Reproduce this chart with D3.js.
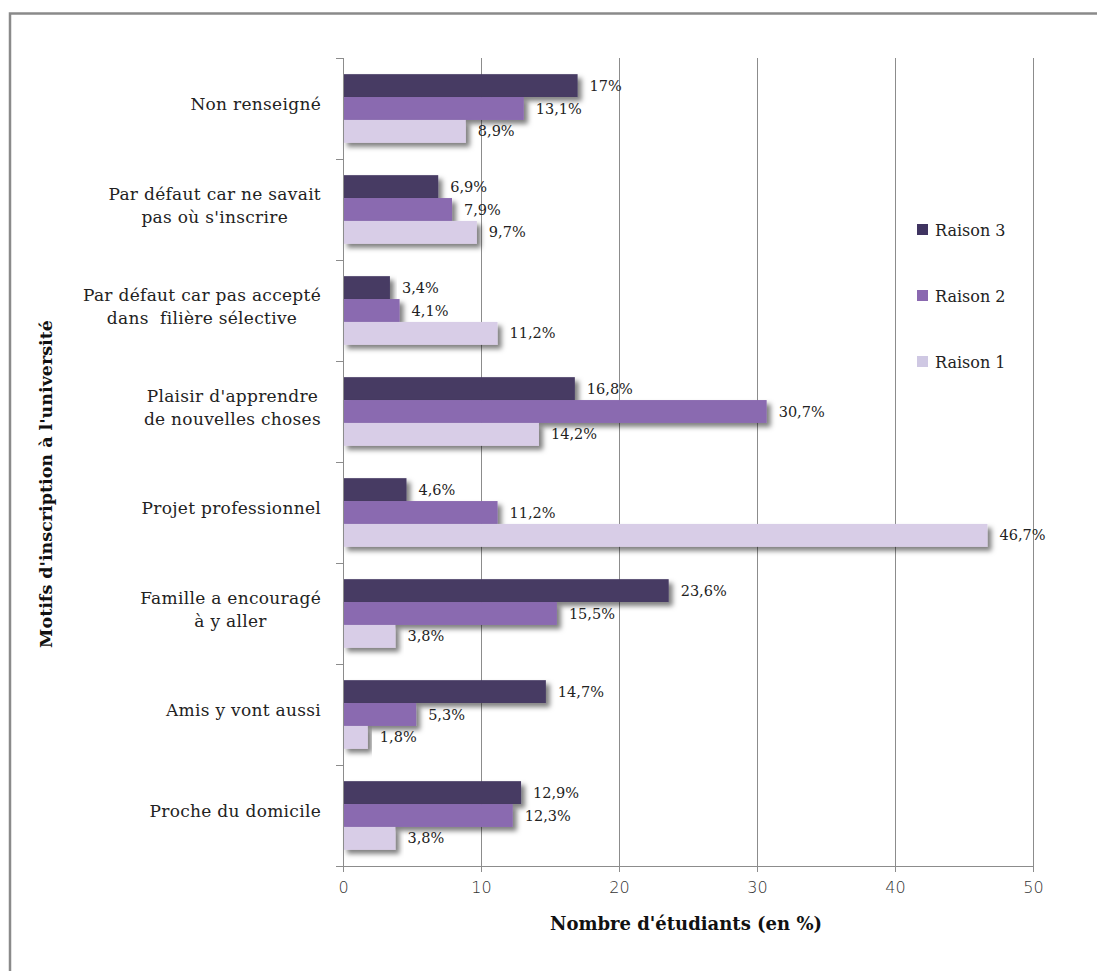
<!DOCTYPE html>
<html><head><meta charset="utf-8">
<script src="https://cdn.jsdelivr.net/npm/d3@7"></script>
<style>
html,body{margin:0;padding:0;background:#fff;}
svg{display:block;}
</style></head>
<body>
<svg id="chart" width="1097" height="971"></svg>
<script>
const categories = [
  ["Non renseigné"],
  ["Par défaut car ne savait", "pas où s'inscrire"],
  ["Par défaut car pas accepté", "dans  filière sélective"],
  ["Plaisir d'apprendre", "de nouvelles choses"],
  ["Projet professionnel"],
  ["Famille a encouragé", "à y aller"],
  ["Amis y vont aussi"],
  ["Proche du domicile"]
];
const seriesNames = ["Raison 3", "Raison 2", "Raison 1"];
const raison3 = [17, 6.9, 3.4, 16.8, 4.6, 23.6, 14.7, 12.9];
const raison2 = [13.1, 7.9, 4.1, 30.7, 11.2, 15.5, 5.3, 12.3];
const raison1 = [8.9, 9.7, 11.2, 14.2, 46.7, 3.8, 1.8, 3.8];
const labels3 = ["17%", "6,9%", "3,4%", "16,8%", "4,6%", "23,6%", "14,7%", "12,9%"];
const labels2 = ["13,1%", "7,9%", "4,1%", "30,7%", "11,2%", "15,5%", "5,3%", "12,3%"];
const labels1 = ["8,9%", "9,7%", "11,2%", "14,2%", "46,7%", "3,8%", "1,8%", "3,8%"];
const xTicks = [0, 10, 20, 30, 40, 50];
const colors = ["#463a63", "#8a6ab0", "#d8cde7"];
const legendColors = ["#3f3461", "#8a68b0", "#cfc8e3"];

const series = [
  {name: seriesNames[0], values: raison3, labels: labels3},
  {name: seriesNames[1], values: raison2, labels: labels2},
  {name: seriesNames[2], values: raison1, labels: labels1}
];

const svg = d3.select("#chart");
const serif = "'DejaVu Serif', serif";
const sans = "'DejaVu Sans', sans-serif";

// frame
svg.append("path").attr("d", "M10,971 V13.5 H1097").attr("fill", "none")
  .attr("stroke", "#8a8a8a").attr("stroke-width", 2.5);

const defs = svg.append("defs");
const f = defs.append("filter").attr("id", "sh").attr("x", "-5%").attr("y", "-30%").attr("width", "120%").attr("height", "190%");
f.append("feDropShadow").attr("dx", 4).attr("dy", 4).attr("stdDeviation", 2.5)
  .attr("flood-color", "#000").attr("flood-opacity", 0.5);

const pLeft = 343, pRight = 1033, pTop = 58, pBottom = 866;
const x = d3.scaleLinear().domain([0, 50]).range([pLeft, pRight]);
const y = d3.scaleBand().domain(d3.range(categories.length)).range([pTop, pBottom]).paddingInner(0.32).paddingOuter(0.16);
const yInner = d3.scaleBand().domain(d3.range(series.length)).range([0, y.bandwidth()]);

// gridlines
svg.append("g").selectAll("line").data(xTicks.filter(d => d > 0)).join("line")
  .attr("x1", d => x(d) + 0.5).attr("x2", d => x(d) + 0.5)
  .attr("y1", pTop).attr("y2", pBottom)
  .attr("stroke", "#8c8c8c").attr("stroke-width", 1);

// bars
const groups = svg.append("g").selectAll("g").data(categories).join("g")
  .attr("transform", (d, i) => `translate(0,${y(i)})`);

series.forEach((s, si) => {
  groups.append("rect")
    .attr("x", x(0))
    .attr("y", yInner(si))
    .attr("width", (d, i) => x(s.values[i]) - x(0))
    .attr("height", yInner.bandwidth())
    .attr("fill", colors[si])
    .attr("filter", "url(#sh)");
});
series.forEach((s, si) => {
  groups.append("text")
    .attr("x", (d, i) => x(s.values[i]) + 12)
    .attr("y", yInner(si) + yInner.bandwidth() / 2)
    .attr("dy", "0.35em")
    .attr("font-family", serif).attr("font-size", 14.5).attr("fill", "#222")
    .text((d, i) => s.labels[i]);
});

// x axis
const xAxis = d3.axisBottom(x).tickValues(xTicks).tickSize(6).tickPadding(10).tickFormat(d3.format("d"));
const gx = svg.append("g").attr("transform", `translate(0,${pBottom})`).call(xAxis);
gx.select(".domain").attr("stroke", "#8c8c8c");
gx.selectAll(".tick line").attr("stroke", "#8c8c8c");
gx.selectAll("text").attr("font-family", sans).attr("font-size", 16).attr("fill", "#333").attr("font-weight", 300);

// y axis line and tick marks at boundaries
const boundaries = d3.range(categories.length + 1).map(i => pTop + i * (pBottom - pTop) / categories.length);
svg.append("line").attr("x1", pLeft + 0.5).attr("x2", pLeft + 0.5).attr("y1", pTop).attr("y2", pBottom).attr("stroke", "#8c8c8c");
svg.append("g").selectAll("line").data(boundaries).join("line")
  .attr("x1", pLeft - 7).attr("x2", pLeft).attr("y1", d => d + 0.5).attr("y2", d => d + 0.5)
  .attr("stroke", "#8c8c8c");

// category labels: block right-aligned at 321, lines centered within block
const catG = svg.append("g");
categories.forEach((lines, i) => {
  const cy = y(i) + y.bandwidth() / 2;
  const lh = 23;
  const t = catG.append("text").attr("text-anchor", "middle")
    .attr("font-family", serif).attr("font-size", 17).attr("letter-spacing", 0.3).attr("fill", "#222");
  const spans = lines.map((ln, k) => t.append("tspan")
      .attr("y", cy - 4 + (k - (lines.length - 1) / 2) * lh)
      .attr("dy", "0.35em").attr("xml:space", "preserve").text(ln));
  const maxW = d3.max(spans, sp => sp.node().getComputedTextLength());
  spans.forEach(sp => sp.attr("x", 321 - maxW / 2));
});

// axis titles
svg.append("text").attr("x", 686).attr("y", 930).attr("text-anchor", "middle")
  .attr("font-family", serif).attr("font-size", 18).attr("font-weight", "bold").attr("fill", "#111")
  .text("Nombre d'étudiants (en %)");
svg.append("text").attr("transform", "translate(52,484) rotate(-90)").attr("text-anchor", "middle")
  .attr("font-family", serif).attr("font-size", 17.5).attr("font-weight", "bold").attr("fill", "#111")
  .text("Motifs d'inscription à l'université");

// legend
const legY = [230, 296, 362];
series.forEach((s, si) => {
  svg.append("rect").attr("x", 917).attr("y", legY[si] - 6).attr("width", 11).attr("height", 11).attr("fill", legendColors[si]);
  svg.append("text").attr("x", 935).attr("y", legY[si]).attr("dy", "0.35em")
    .attr("font-family", serif).attr("font-size", 16).attr("fill", "#222").text(s.name);
});
</script>
</body></html>
